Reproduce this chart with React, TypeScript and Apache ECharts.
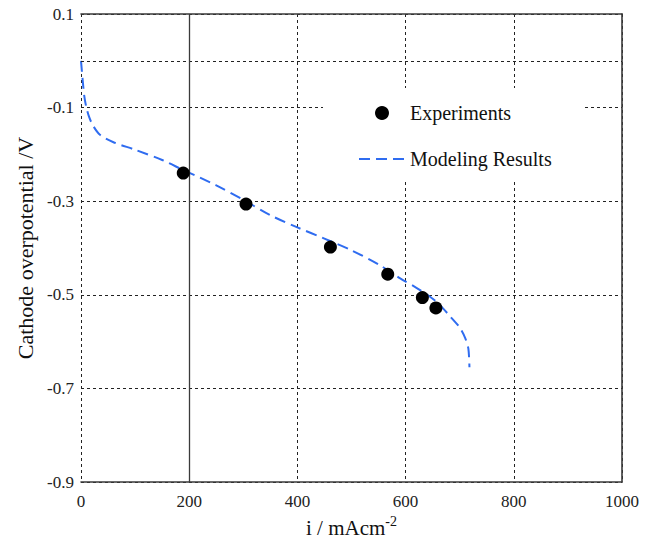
import React, { useEffect, useRef } from "react";
import * as echarts from "echarts";

const expX = [189, 305, 461, 567, 631, 656];
const expY = [-0.24, -0.306, -0.398, -0.456, -0.506, -0.528];

const modelX = [0, 3, 6, 10, 15, 22, 35, 60, 100, 150, 190, 250, 300, 350, 400, 450, 500, 550, 590, 620, 640, 660, 683, 700, 710, 716, 718];
const modelY = [0.0, -0.04, -0.075, -0.1, -0.12, -0.138, -0.158, -0.174, -0.19, -0.212, -0.234, -0.266, -0.297, -0.33, -0.356, -0.38, -0.405, -0.435, -0.465, -0.485, -0.5, -0.518, -0.547, -0.57, -0.592, -0.615, -0.655];

const seriesNames = ["Experiments", "Modeling Results"];

const FONT = "Liberation Serif";

export default function App() {
  const ref = useRef<HTMLDivElement>(null);
  useEffect(() => {
    document.body.style.margin = "0";
    const chart = echarts.init(ref.current!, null, { renderer: "svg" });
    const gridDash = { color: "#222", width: 1, type: [3, 3] as any };
    const border = () => ({ show: true, onZero: false, lineStyle: { color: "#3a3a3a", width: 1.6 } });
    chart.setOption({
      animation: false,
      backgroundColor: "#fff",
      textStyle: { fontFamily: FONT },
      grid: { left: 81, right: 28, top: 14, bottom: 57, outerBoundsMode: "none", containLabel: false },
      legend: {
        data: [
          { name: seriesNames[0] },
          { name: seriesNames[1], itemStyle: { color: "rgba(0,0,0,0)", borderWidth: 0 } },
        ],
        orient: "vertical",
        left: 323,
        top: 88,
        padding: [15, 33, 11, 35],
        backgroundColor: "#fff",
        itemWidth: 46,
        itemHeight: 14,
        itemGap: 26,
        itemTextGap: 9,
        textStyle: { fontFamily: FONT, fontSize: 20, color: "#111" },
      },
      xAxis: [
        {
          type: "value",
          min: 0,
          max: 1000,
          interval: 200,
          position: "bottom",
          axisLine: border(),
          axisTick: { show: false },
          axisLabel: { fontFamily: FONT, fontSize: 17, color: "#222", margin: 11, formatter: (v: number) => String(v) },
          splitLine: { show: true, lineStyle: gridDash },
          name: "{a|i / mAcm}{b|-2}",
          nameLocation: "middle",
          nameGap: 30,
          nameTextStyle: {
            rich: {
              a: { fontFamily: FONT, fontSize: 21, lineHeight: 26, color: "#111" },
              b: { fontFamily: FONT, fontSize: 14, lineHeight: 14, color: "#111", verticalAlign: "top" },
            },
          },
        },
        {
          type: "value",
          min: 0,
          max: 1000,
          interval: 200,
          position: "top",
          axisLine: border(),
          axisTick: { show: false },
          axisLabel: { show: false },
          splitLine: { show: false },
        },
      ],
      yAxis: [
        {
          type: "value",
          min: -0.9,
          max: 0.1,
          interval: 0.2,
          position: "left",
          axisLine: { show: false, onZero: false },
          axisTick: { show: false },
          axisLabel: {
            fontFamily: FONT,
            fontSize: 17,
            color: "#222",
            margin: 7,
            formatter: (v: number) => (Math.abs(v) < 1e-9 ? "0" : (Math.round(v * 10) / 10).toFixed(1)),
          },
          splitLine: { show: true, lineStyle: gridDash },
          name: "Cathode overpotential /V",
          nameLocation: "middle",
          nameGap: 45,
          nameRotate: 90,
          nameTextStyle: { fontFamily: FONT, fontSize: 22, color: "#111" },
        },
        {
          type: "value",
          min: -0.9,
          max: 0.1,
          interval: 0.2,
          position: "right",
          axisLine: border(),
          axisTick: { show: false },
          axisLabel: { show: false },
          splitLine: { show: false },
        },
      ],
      series: [
        {
          name: seriesNames[0],
          type: "scatter",
          data: expX.map((x, i) => [x, expY[i]]),
          symbol: "circle",
          symbolSize: 13,
          itemStyle: { color: "#000", opacity: 1 },
          z: 5,
          markLine: {
            silent: true,
            symbol: "none",
            label: { show: false },
            lineStyle: { color: "#222", width: 1, type: [3, 3] },
            data: [{ yAxis: 0 }],
          },
        },
        {
          name: seriesNames[1],
          type: "line",
          data: modelX.map((x, i) => [x, modelY[i]]),
          symbol: "none",
          smooth: 0.3,
          lineStyle: { color: "#2f6cf0", width: 2, type: [11, 6] },
          itemStyle: { color: "#2f6cf0" },
          z: 4,
          markLine: {
            silent: true,
            symbol: "none",
            label: { show: false },
            lineStyle: { color: "#3a3a3a", width: 1.3, type: "solid" },
            data: [{ xAxis: 200 }],
          },
        },
      ],
    });
    return () => chart.dispose();
  }, []);
  return <div ref={ref} style={{ width: 650, height: 539 }} />;
}
